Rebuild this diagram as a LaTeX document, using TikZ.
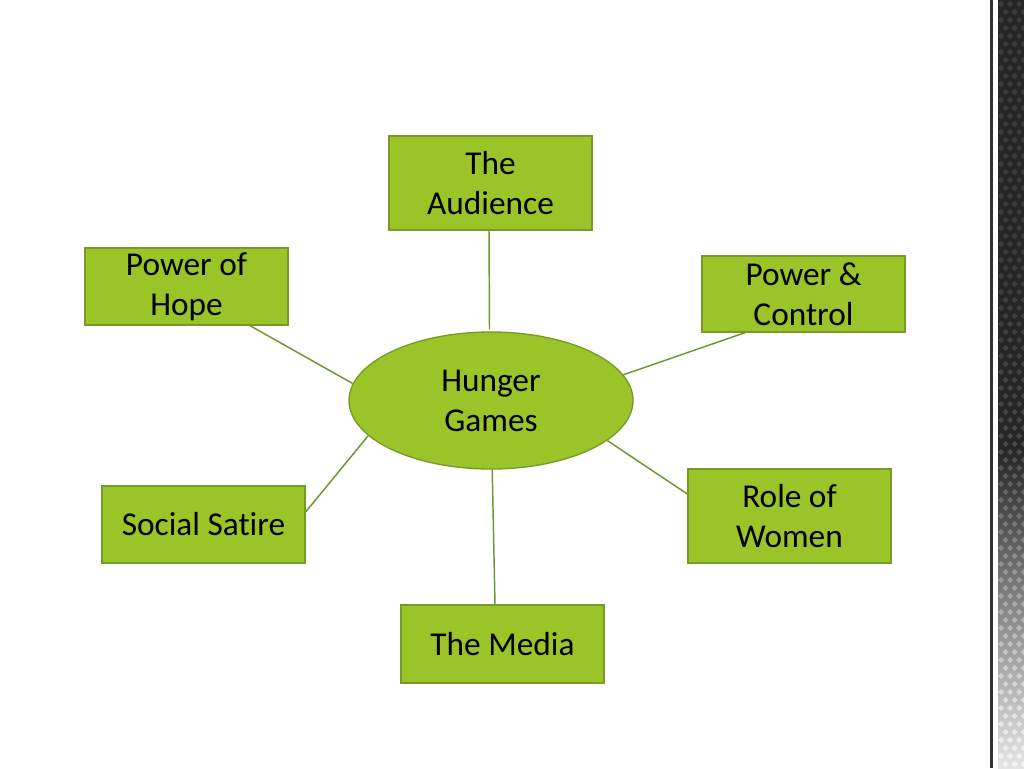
\documentclass[tikz,border=0pt]{standalone}
\usepackage{fontspec}
\setmainfont{Carlito}[Ligatures=NoCommon]
\usetikzlibrary{shapes.geometric,calc}
\definecolor{boxgreen}{RGB}{154,196,40}
\definecolor{edgegreen}{RGB}{118,156,40}
\definecolor{linegreen}{RGB}{112,150,50}
\tikzset{
  topic/.style={draw=edgegreen, line width=1pt, fill=boxgreen, minimum width=203\px, minimum height=#1, align=center, inner sep=0pt, font=\fontsize{25}{30}\selectfont},
  hub/.style={draw=edgegreen, line width=1pt, fill=boxgreen, ellipse, minimum width=284\px, minimum height=137\px, inner sep=0pt, align=center, font=\fontsize{25}{30}\selectfont},
  link/.style={draw=linegreen, line width=1.1pt}
}
\newlength{\px}\setlength{\px}{0.75pt}
\begin{document}
\begin{tikzpicture}[x=0.75pt,y=-0.75pt]
\useasboundingbox[fill=white] (0,0) rectangle (1024,768);
% right decorative strip
\fill[black!80] (989.5,0) rectangle (992.5,768);
\fill[black!85] (998,0) rectangle (1024,450);
\shade[top color=black!85, bottom color=black!10] (998,449) rectangle (1024,768);
\foreach \j in {0,...,95}{
  \foreach \i in {0,1,2}{
    \pgfmathsetmacro{\xx}{1001+\i*9+mod(\j,2)*4.5}
    \pgfmathsetmacro{\yy}{\j*8+4}
    \pgfmathsetmacro{\op}{0.1+0.55*(\j/95)^4}
    \fill[white, opacity=\op] (\xx,\yy-3) -- (\xx+3,\yy) -- (\xx,\yy+3) -- (\xx-3,\yy) -- cycle;
  }
}
% nodes
\node[hub] (hg) at (491,400.5) {Hunger\\Games};
\node[topic=94\px] (aud) at (490.5,183) {The\\Audience};
\node[topic=77\px] (hope) at (186.5,286.5) {Power of\\Hope};
\node[topic=76\px] (ctrl) at (803.5,294) {Power \&\\Control};
\node[topic=77\px] (sat) at (203.5,524.5) {Social Satire};
\node[topic=94\px] (wom) at (789.5,516) {Role of\\Women};
\node[topic=78\px] (med) at (502.5,644) {The Media};
% links
\draw[link] ($(aud.south)+(-1.5,0)$) -- ($(hg.north)+(-1.5,-2)$);
\draw[link] ($(hope.south)+(63.5,0)$) -- (hg.173.6);
\draw[link] ($(ctrl.south)+(-58.5,0)$) -- (hg.11.4);
\draw[link] ($(sat.east)+(0,-12.5)$) -- (hg.196.8);
\draw[link] ($(wom.west)+(0,-22)$) -- (hg.-19);
\draw[link] (hg.-89) -- ($(med.north)+(-7.5,0)$);
\end{tikzpicture}
\end{document}
